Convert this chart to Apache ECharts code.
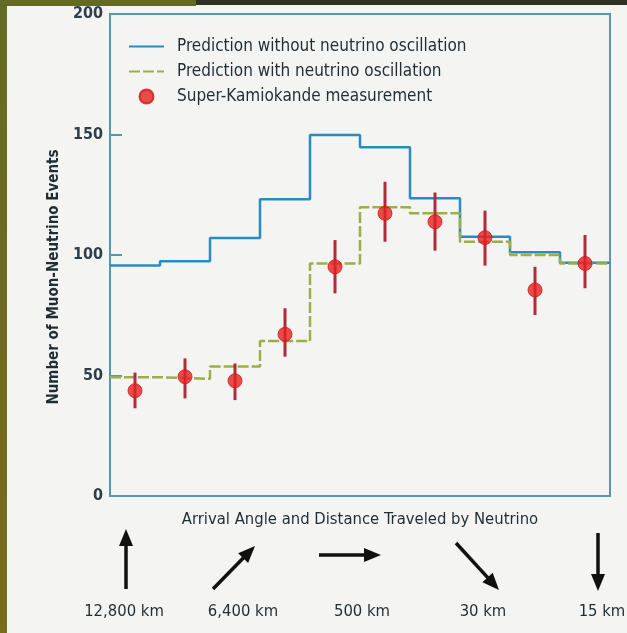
<!DOCTYPE html>
<html>
<head>
<meta charset="utf-8">
<script src="https://cdn.jsdelivr.net/npm/echarts@6/dist/echarts.min.js"></script>
<style>
html,body{margin:0;padding:0;background:#f4f4f2;}
#chart{width:627px;height:633px;}
</style>
</head>
<body>
<div id="chart"></div>
<script>
// ---- data ----
const binCount = 10;
const noOscillation   = [95.6, 97.4, 107.1, 123.1, 149.8, 144.7, 123.5, 107.6, 101.1, 96.8];
const withOscillation = [49.3, 48.6, 53.7, 64.3, 96.5, 119.8, 117.3, 105.5, 100.0, 96.5];
const measured        = [43.7, 49.5, 47.8, 67.1, 95.1, 117.3, 113.8, 107.2, 85.5, 96.5];
const errLow          = [36.4, 40.5, 39.8, 57.8, 84.1, 105.5, 101.8, 95.6, 75.1, 86.2];
const errHigh         = [51.2, 57.1, 55.0, 77.9, 106.2, 130.4, 125.9, 118.4, 95.1, 108.3];
const yTicks = [0, 50, 100, 150, 200];
const distanceLabels = ['12,800 km', '6,400 km', '500 km', '30 km', '15 km'];
const seriesNames = ['Prediction without neutrino oscillation', 'Prediction with neutrino oscillation', 'Super-Kamiokande measurement'];
const yAxisTitle = 'Number of Muon-Neutrino Events';
const xAxisTitle = 'Arrival Angle and Distance Traveled by Neutrino';

const FONT = "'DejaVu Sans Condensed', 'Liberation Sans Narrow', 'DejaVu Sans', sans-serif";
const TEXT = '#1f2d34';
const FRAME = '#5b97aa';

function stepData(arr) {
  const d = arr.map((v, i) => [i, v]);
  d.push([binCount, arr[arr.length - 1]]);
  return d;
}

function arrow(x1, y1, x2, y2) {
  const dx = x2 - x1, dy = y2 - y1, L = Math.hypot(dx, dy);
  const ux = dx / L, uy = dy / L, hl = 17, hw = 7;
  const bx = x2 - ux * hl, by = y2 - uy * hl;
  return [
    { type: 'line', shape: { x1: x1, y1: y1, x2: bx + ux * 3, y2: by + uy * 3 }, style: { stroke: '#111', lineWidth: 3.5 } },
    { type: 'polygon', shape: { points: [[x2, y2], [bx - uy * hw, by + ux * hw], [bx + uy * hw, by - ux * hw]] }, style: { fill: '#111' } }
  ];
}

const arrowSpecs = [
  [126, 589, 126, 529],
  [213, 589, 255, 546],
  [319, 555, 381, 555],
  [456, 543, 499, 590],
  [598, 533, 598, 591]
];
const labelX = [124, 243, 362, 483, 602];

const graphics = [
  { type: 'rect', shape: { x: 0, y: 0, width: 7, height: 633 }, style: { fill: new echarts.graphic.LinearGradient(0, 0, 0, 1, [{ offset: 0, color: '#646a28' }, { offset: 1, color: '#786a1e' }]) }, z: 100 },
  { type: 'rect', shape: { x: 0, y: 0, width: 196, height: 6 }, style: { fill: '#636a26' }, z: 100 },
  { type: 'rect', shape: { x: 196, y: 0, width: 431, height: 5 }, style: { fill: '#2e3222' }, z: 100 }
];
arrowSpecs.forEach(a => arrow.apply(null, a).forEach(g => graphics.push(g)));
distanceLabels.forEach((t, i) => graphics.push({
  type: 'text', x: labelX[i], y: 612,
  style: { text: t, fill: TEXT, font: '16.5px ' + FONT, textAlign: 'center', textVerticalAlign: 'middle' }
}));

const chart = echarts.init(document.getElementById('chart'), null, { renderer: 'canvas', devicePixelRatio: 1 });
chart.setOption({
  backgroundColor: '#f4f4f2',
  animation: false,
  grid: { left: 110, right: 17, top: 14, bottom: 137, show: true, borderColor: FRAME, borderWidth: 2, backgroundColor: 'transparent' },
  legend: {
    orient: 'vertical', left: 128, top: 38, padding: 0, itemWidth: 35, itemHeight: 14, itemGap: 8,
    data: [
      { name: seriesNames[0], itemStyle: { opacity: 0 } },
      { name: seriesNames[1], itemStyle: { opacity: 0 } },
      { name: seriesNames[2] }
    ],
    textStyle: { fontSize: 17, color: TEXT, fontFamily: FONT, padding: [0, 0, 0, 8] }
  },
  xAxis: {
    type: 'value', min: 0, max: binCount,
    axisLine: { show: false }, axisTick: { show: false }, axisLabel: { show: false }, splitLine: { show: false },
    name: xAxisTitle, nameLocation: 'middle', nameGap: 15,
    nameTextStyle: { fontSize: 16.5, color: TEXT, fontFamily: FONT }
  },
  yAxis: {
    type: 'value', min: yTicks[0], max: yTicks[yTicks.length - 1], interval: yTicks[1] - yTicks[0],
    axisLine: { show: false }, splitLine: { show: false },
    axisTick: { show: true, inside: true, length: 12, lineStyle: { color: FRAME, width: 2 } },
    axisLabel: { fontSize: 16, fontWeight: 'bold', color: '#2f3f48', fontFamily: FONT, margin: 7 },
    name: yAxisTitle, nameLocation: 'middle', nameGap: 43,
    nameTextStyle: { fontSize: 15, fontWeight: 'bold', color: TEXT, fontFamily: FONT, padding: [0, 44, 0, 0] }
  },
  graphic: graphics,
  series: [
    {
      name: seriesNames[0], type: 'line', step: 'end', data: stepData(noOscillation),
      symbol: 'none', lineStyle: { color: '#2a8bc3', width: 2.5 }, itemStyle: { color: '#2a8bc3' }, z: 3
    },
    {
      name: seriesNames[1], type: 'line', step: 'end', data: stepData(withOscillation),
      symbol: 'none', lineStyle: { color: '#9cad4a', width: 2.5, type: [11, 3] }, itemStyle: { color: '#9cad4a' }, z: 4
    },
    {
      name: 'errors', type: 'custom', z: 5,
      data: measured.map((v, i) => [i + 0.5, errLow[i], errHigh[i]]),
      renderItem: function (params, api) {
        const x = api.value(0);
        const p1 = api.coord([x, api.value(1)]);
        const p2 = api.coord([x, api.value(2)]);
        return { type: 'line', shape: { x1: p1[0], y1: p1[1], x2: p2[0], y2: p2[1] }, style: { stroke: '#b42a3a', lineWidth: 3 } };
      }
    },
    {
      name: seriesNames[2], type: 'scatter', z: 6,
      data: measured.map((v, i) => [i + 0.5, v]),
      symbol: 'circle', symbolSize: 14,
      itemStyle: { color: '#e62020', borderColor: '#d01818', borderWidth: 1 }
    }
  ]
});
</script>
</body>
</html>
